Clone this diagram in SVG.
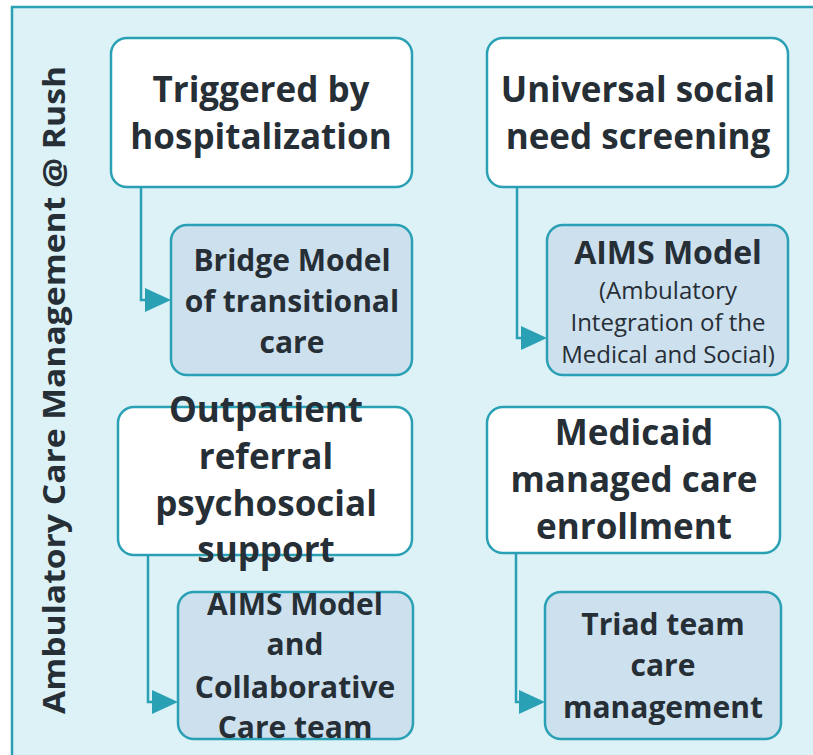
<svg xmlns="http://www.w3.org/2000/svg" width="813" height="755" viewBox="0 0 813 755">
<style>
.top{fill:#FFFFFF;stroke:#2AA0B4;stroke-width:2.5}
.sub{fill:#CDE0EE;stroke:#2AA0B4;stroke-width:2.5}
.t{font-family:"Open Sans","Liberation Sans",sans-serif;font-weight:bold;fill:#262E36;text-anchor:middle}
.r{font-family:"Open Sans","Liberation Sans",sans-serif;fill:#262E36;text-anchor:middle}
.c{fill:none;stroke:#2AA0B4;stroke-width:2.5}
</style>
<rect x="12" y="7" width="810" height="760" fill="#DCF2F7" stroke="#2AA0B4" stroke-width="2.5"/>
<text class="t" transform="translate(65,390) rotate(-90)" font-size="30" font-family="Liberation Sans" textLength="648" lengthAdjust="spacingAndGlyphs">Ambulatory Care Management @ Rush</text>
<g id="connectors">
<path class="c" d="M141,187 V300 H150"/>
<path d="M145,288 L171,300 L145,312 Z" fill="#2AA0B4"/>
<path class="c" d="M517,187 V338 H526"/>
<path d="M521,326 L547,338 L521,350 Z" fill="#2AA0B4"/>
<path class="c" d="M148,555 V702 H157"/>
<path d="M152,690 L178,702 L152,714 Z" fill="#2AA0B4"/>
<path class="c" d="M516,553 V702 H524"/>
<path d="M519,690 L545,702 L519,714 Z" fill="#2AA0B4"/>
</g>
<g id="n1">
<rect class="top" x="111" y="38" width="301" height="149" rx="16"/>
<text class="t" font-size="35" x="261" y="102">Triggered by</text>
<text class="t" font-size="35" x="261" y="149">hospitalization</text>
</g>
<g id="n2">
<rect class="top" x="487" y="38" width="301" height="149" rx="16"/>
<text class="t" font-size="35" x="638" y="102">Universal social</text>
<text class="t" font-size="35" x="638" y="149">need screening</text>
</g>
<g id="n3">
<rect class="sub" x="171" y="225" width="241" height="150" rx="16"/>
<text class="t" font-size="30" x="292" y="271">Bridge Model</text>
<text class="t" font-size="30" x="292" y="312">of transitional</text>
<text class="t" font-size="30" x="292" y="353">care</text>
</g>
<g id="n4">
<rect class="sub" x="547" y="225" width="241" height="150" rx="16"/>
<text class="t" font-size="32" x="668" y="264">AIMS Model</text>
<text class="r" font-size="24" x="668" y="299">(Ambulatory</text>
<text class="r" font-size="24" x="668" y="331">Integration of the</text>
<text class="r" font-size="24" x="668" y="363">Medical and Social)</text>
</g>
<g id="n5">
<rect class="top" x="118" y="407" width="294" height="148" rx="16"/>
<text class="t" font-size="35" x="266" y="422">Outpatient</text>
<text class="t" font-size="35" x="266" y="469">referral</text>
<text class="t" font-size="35" x="266" y="516">psychosocial</text>
<text class="t" font-size="35" x="266" y="562">support</text>
</g>
<g id="n6">
<rect class="top" x="487" y="407" width="293" height="146" rx="16"/>
<text class="t" font-size="35" x="634" y="445">Medicaid</text>
<text class="t" font-size="35" x="634" y="492">managed care</text>
<text class="t" font-size="35" x="634" y="539">enrollment</text>
</g>
<g id="n7">
<rect class="sub" x="178" y="592" width="235" height="147" rx="16"/>
<text class="t" font-size="30" x="295" y="615">AIMS Model</text>
<text class="t" font-size="30" x="295" y="655">and</text>
<text class="t" font-size="30" x="295" y="698">Collaborative</text>
<text class="t" font-size="30" x="295" y="738">Care team</text>
</g>
<g id="n8">
<rect class="sub" x="545" y="592" width="236" height="147" rx="16"/>
<text class="t" font-size="30" x="663" y="635">Triad team</text>
<text class="t" font-size="30" x="663" y="676">care</text>
<text class="t" font-size="30" x="663" y="718">management</text>
</g>
</svg>
